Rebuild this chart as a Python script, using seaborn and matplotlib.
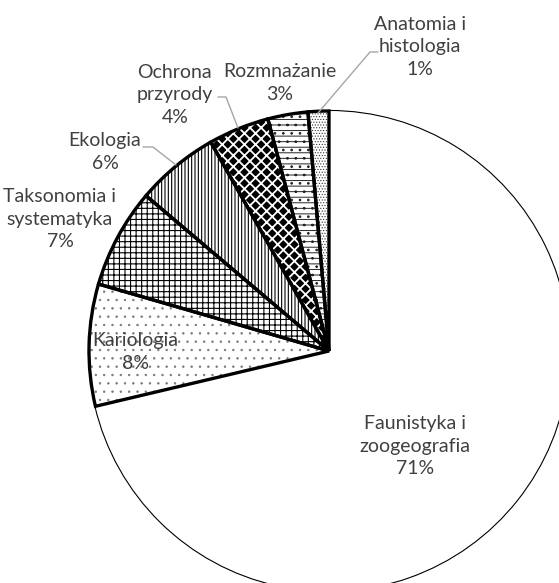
"""
Pie chart of research topics (share of publications), hatched black & white
"""

import matplotlib.pyplot as plt
import seaborn as sns

sns.set_theme(style='white')
plt.rcParams['font.family'] = ['Lato', 'DejaVu Sans']

# data, counter-clockwise from the top
topics = ['Anatomia i\nhistologia', 'Rozmnażanie', 'Ochrona\nprzyrody',
          'Ekologia', 'Taksonomia i\nsystematyka', 'Kariologia',
          'Faunistyka i\nzoogeografia']
shares = [1.4, 2.7, 4.1, 5.6, 6.7, 8.2, 71.3]
hatches = ['......', '---..', 'xxx', '|||||', '+++', '..', '']
hatch_colors = ['#333333', '#222222', 'white', 'black', 'black',
                '#777777', 'black']
hatch_widths = [0.5, 0.7, 1.3, 0.8, 0.8, 0.5, 0.8]

# label positions (pie radius = 1) and leader lines
label_xy = [(0.379, 1.267), (-0.204, 1.117), (-0.642, 1.067),
            (-0.933, 0.829), (-1.121, 0.55), (-0.808, -0.004),
            (0.358, -0.396)]
leaders = {
    0: [(378, 52), (370, 52), (318, 113)],
    2: [(218, 97), (226, 97), (238, 128)],
    3: [(143, 147), (153, 147), (176, 165)],
}

CX, CY, R = 329, 351, 240
TEXT = '#404040'


def to_data(px, py):
    return (px - CX) / R, (CY - py) / R


def main():
    fig = plt.figure(figsize=(5.59, 5.83), dpi=100)
    ax = fig.add_axes([0, 0, 1, 1])

    # fills and hatches
    plt.rcParams['hatch.linewidth'] = 0.8
    fills, _ = ax.pie(shares, startangle=90, counterclock=True, radius=1,
                      wedgeprops=dict(linewidth=0, edgecolor='black',
                                      facecolor='white'))
    for w, h, c, lw in zip(fills, hatches, hatch_colors, hatch_widths):
        w.set_hatch(h)
        w.set_edgecolor(c)
        if hasattr(w, 'set_hatch_linewidth'):
            w.set_hatch_linewidth(lw)
    # diamond checker: white crossing lines on black
    fills[2].set_facecolor('black')

    # outlines
    outlines, _ = ax.pie(shares, startangle=90, counterclock=True, radius=1,
                         wedgeprops=dict(fill=False, edgecolor='black',
                                         linewidth=2.4))
    outlines[-1].set_linewidth(1.6)
    outlines[-1].set_zorder(outlines[0].get_zorder() - 0.1)

    for i, (name, val) in enumerate(zip(topics, shares)):
        x, y = label_xy[i]
        ax.text(x, y, f'{name}\n{round(val)}%', ha='center', va='center',
                fontsize=14, color=TEXT, linespacing=1.38)

    for pts in leaders.values():
        xs, ys = zip(*[to_data(*p) for p in pts])
        ax.plot(xs, ys, color='#a6a6a6', lw=1)

    ax.set_xlim(to_data(0, 0)[0], to_data(559, 0)[0])
    ax.set_ylim(to_data(0, 583)[1], to_data(0, 0)[1])
    ax.set_aspect('equal')
    ax.axis('off')

    fig.savefig('out.png', dpi=100, facecolor='white')


if __name__ == '__main__':
    main()
